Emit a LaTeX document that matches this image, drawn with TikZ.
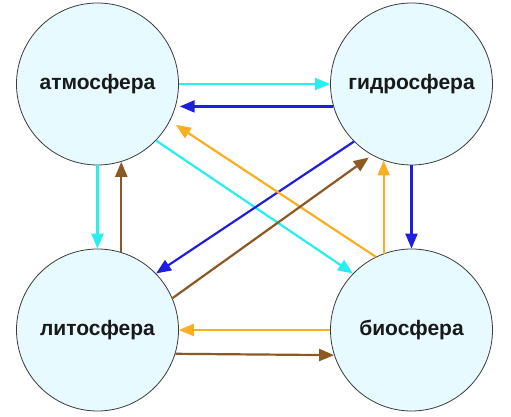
\documentclass[tikz,border=0pt]{standalone}
\usepackage{fontspec}
\setmainfont{Liberation Sans}
\usetikzlibrary{arrows.meta}
\definecolor{sphereFill}{RGB}{230,250,255}
\definecolor{sphereDraw}{RGB}{60,60,60}
\definecolor{textColor}{RGB}{25,25,25}
\definecolor{cyanColor}{RGB}{40,238,238}
\definecolor{blueColor}{RGB}{30,30,225}
\definecolor{orangeColor}{RGB}{250,175,35}
\definecolor{brownColor}{RGB}{140,88,35}
\tikzset{
  sphere/.style={circle,draw=sphereDraw,line width=0.8pt,fill=sphereFill,text=textColor,
    minimum size=162pt,inner sep=0pt,font=\fontsize{21}{25}\selectfont\bfseries},
  flow/.style={line width=2.2pt,-{Triangle[length=15pt,width=12pt]}}
}
\begin{document}
\begin{tikzpicture}[x=1pt,y=1pt]
\path[use as bounding box,fill=white] (0,0) rectangle (511,417);

\node[sphere] (atmo)  at ( 97.5,333) {атмосфера};
\node[sphere] (hydro) at (411.5,333) {гидросфера};
\node[sphere] (lito)  at ( 97.5, 87) {литосфера};
\node[sphere] (bio)   at (411.5, 87) {биосфера};

% cyan
\draw[flow,draw=cyanColor,fill=cyanColor] (atmo.east) -- (hydro.west);
\draw[flow,draw=cyanColor,fill=cyanColor] (atmo.south) -- (lito.north);
\draw[flow,draw=cyanColor,fill=cyanColor] (atmo.-44) -- (bio.136);

% blue
\draw[flow,draw=blueColor,fill=blueColor,shorten >=4pt] (hydro.196.5) -- (atmo.-16.5);
\draw[flow,draw=blueColor,fill=blueColor] (hydro.south) -- (bio.north);
\draw[flow,draw=blueColor,fill=blueColor] (hydro.-135.3) -- (lito.44.3);

% orange
\draw[flow,draw=orangeColor,fill=orangeColor] (bio.west) -- (lito.east);
\draw[flow,draw=orangeColor,fill=orangeColor] (bio.110) -- (hydro.-110);
\draw[flow,draw=orangeColor,fill=orangeColor,shorten >=7pt] (bio.116.6) -- (atmo.-27.6);

% brown
\draw[flow,draw=brownColor,fill=brownColor] (lito.73.2) -- (atmo.-73.2);
\draw[flow,draw=brownColor,fill=brownColor] (lito.-17.2) -- (bio.-162.8);
\draw[flow,draw=brownColor,fill=brownColor,shorten >=4pt] (lito.23.1) -- (hydro.-119.6);
\end{tikzpicture}
\end{document}
